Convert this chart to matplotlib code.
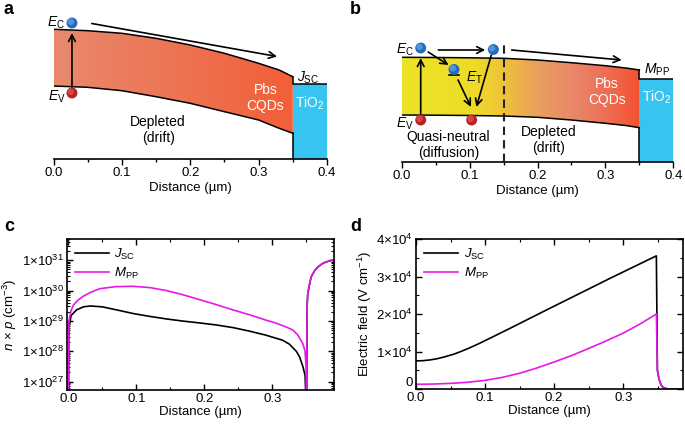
import numpy as np
import matplotlib
matplotlib.use('Agg')
import matplotlib.pyplot as plt
from matplotlib.colors import LinearSegmentedColormap
from matplotlib.patches import Polygon, Rectangle
from matplotlib.transforms import offset_copy
from matplotlib.ticker import MultipleLocator, LogLocator, FuncFormatter, NullFormatter, FixedLocator

plt.rcParams['font.family'] = ['Liberation Sans', 'DejaVu Sans']
plt.rcParams['mathtext.fontset'] = 'custom'
plt.rcParams['mathtext.rm'] = 'Liberation Sans'
plt.rcParams['mathtext.it'] = 'Liberation Sans:italic'
plt.rcParams['mathtext.bf'] = 'Liberation Sans:bold'
plt.rcParams['font.size'] = 8.5

# ---- panel a: band diagram at short circuit (energy, arbitrary units)
band_a_x = [0.0, 0.05, 0.1, 0.15, 0.2, 0.25, 0.3, 0.33, 0.35]
band_a_ec = [129.7, 128.3, 125.7, 120.7, 114.0, 105.7, 95.7, 89.0, 82.3]
band_a_ev = [73.0, 71.7, 68.3, 62.3, 55.7, 47.3, 39.0, 30.7, 25.7]
tio2_a_level = 74.7

# ---- panel b: band diagram at maximum power point
band_b_x = [0.0, 0.05, 0.1, 0.15, 0.2, 0.25, 0.3, 0.33, 0.35]
band_b_ec = [104.7, 104.5, 104.2, 103.7, 102.0, 99.3, 96.3, 94.0, 92.0]
band_b_ev = [47.0, 46.8, 46.5, 46.0, 44.7, 42.0, 38.7, 36.5, 34.3]
tio2_b_level = 83.0

# ---- panel c: n x p product (cm^-3)
np_x_jsc = [0.0, 0.0008, 0.004, 0.012, 0.022, 0.032, 0.05, 0.071, 0.095, 0.12, 0.145,
            0.169, 0.194, 0.218, 0.242, 0.266, 0.29, 0.315, 0.325, 0.335, 0.34, 0.345,
            0.348, 0.35, 0.3505, 0.351, 0.352, 0.355, 0.357, 0.362, 0.367, 0.373,
            0.379, 0.385, 0.39]
np_jsc = [1e26, 6e28, 1.5e29, 2.3e29, 2.9e29, 3.1e29, 2.9e29, 2.3e29, 1.75e29, 1.4e29,
          1.15e29, 9.8e28, 8.5e28, 7.3e28, 6.0e28, 4.6e28, 3.4e28, 2.3e28, 1.7e28,
          1.0e28, 6.5e27, 3e27, 1.6e27, 1e26, 1e26, 3e29, 8e29, 1.8e30, 2.8e30,
          4.5e30, 6e30, 7.6e30, 8.8e30, 9.6e30, 1.02e31]
np_x_mpp = [0.0, 0.0008, 0.004, 0.0073, 0.014, 0.022, 0.032, 0.046, 0.07, 0.095, 0.12,
            0.144, 0.168, 0.193, 0.218, 0.242, 0.266, 0.291, 0.305, 0.32, 0.33, 0.337,
            0.3446, 0.348, 0.3495, 0.35, 0.3505, 0.351, 0.352, 0.355, 0.357, 0.362,
            0.367, 0.373, 0.379, 0.385, 0.39]
np_mpp = [1e26, 1e29, 2.2e29, 3.3e29, 4.8e29, 6.5e29, 8.6e29, 1.15e30, 1.35e30, 1.38e30,
          1.25e30, 1.0e30, 7.3e29, 5.0e29, 3.4e29, 2.3e29, 1.6e29, 1.05e29, 8.5e28,
          6.3e28, 5.0e28, 3.5e28, 1.8e28, 1.0e28, 3e27, 1e26, 1e26, 3e29, 8e29,
          1.8e30, 2.8e30, 4.5e30, 6e30, 7.6e30, 8.8e30, 9.6e30, 1.02e31]

# ---- panel d: electric field (V cm^-1)
ef_x_jsc = [0.0, 0.01, 0.02, 0.03, 0.042, 0.055, 0.065, 0.078, 0.09, 0.11, 0.1385,
            0.187, 0.235, 0.283, 0.348, 0.3495, 0.352, 0.355, 0.358, 0.362, 0.366, 0.39]
ef_jsc = [7500, 7550, 7750, 8050, 8600, 9300, 10000, 11000, 12000, 13800, 16400,
          20900, 25300, 29700, 35500, 5000, 2500, 1000, 400, 120, 0, 0]
ef_x_mpp = [0.0, 0.025, 0.05, 0.075, 0.1, 0.125, 0.15, 0.175, 0.2, 0.225, 0.25,
            0.275, 0.3, 0.325, 0.348, 0.3495, 0.352, 0.355, 0.358, 0.362, 0.366, 0.39]
ef_mpp = [1250, 1320, 1500, 1800, 2300, 3100, 4200, 5600, 7200, 8900, 10800,
          12800, 14900, 17400, 20000, 5000, 2500, 1000, 400, 120, 0, 0]

W, H = 685, 424
fig = plt.figure(figsize=(6.85, 4.24), dpi=100)


def px_axes(l, t, r, b):
    return fig.add_axes([l / W, 1 - b / H, (r - l) / W, (b - t) / H])


def gradient_band(ax, x, top, bot, stops, colors):
    verts = list(zip(x, top)) + list(zip(x[::-1], bot[::-1]))
    poly = Polygon(verts, closed=True, facecolor='none', edgecolor='none')
    ax.add_patch(poly)
    cmap = LinearSegmentedColormap.from_list('g', list(zip(stops, colors)))
    grad = np.linspace(0, 1, 256).reshape(1, -1)
    im = ax.imshow(grad, cmap=cmap, extent=(x[0], x[-1], min(bot), max(top)),
                   aspect='auto', origin='lower', zorder=1, interpolation='bilinear')
    im.set_clip_path(poly)
    ax.plot(x, top, color='black', lw=1.1, zorder=3)
    ax.plot(x, bot, color='black', lw=1.1, zorder=3)


def band_axes(ax, ymax):
    ax.set_xlim(0, 0.4)
    ax.set_ylim(0, ymax)
    for s in ['left', 'right', 'top']:
        ax.spines[s].set_visible(False)
    ax.spines['bottom'].set_linewidth(1.2)
    ax.set_yticks([])
    ax.xaxis.set_major_locator(MultipleLocator(0.1))
    ax.xaxis.set_minor_locator(MultipleLocator(0.05))
    ax.xaxis.set_major_formatter(FuncFormatter(lambda v, p: f'{v:.1f}'))
    ax.tick_params(axis='x', which='major', direction='out', length=4, width=1, labelsize=9.5, pad=2)
    ax.tick_params(axis='x', which='minor', direction='out', length=2.5, width=1)
    ax.set_xlabel('Distance (µm)', fontsize=9.5, labelpad=2)
    ax.patch.set_alpha(0)


def ball(ax, x, y, color, light):
    ax.scatter([x], [y], s=62, color=color, zorder=6, edgecolor='none')
    hl = offset_copy(ax.transData, fig=fig, x=-1.2, y=1.2, units='dots')
    ax.scatter([x], [y], s=22, color=light, alpha=0.8, zorder=7, edgecolor='none', transform=hl)


def arrow(ax, x0, y0, x1, y1):
    ax.annotate('', xy=(x1, y1), xytext=(x0, y0),
                arrowprops=dict(arrowstyle='->', lw=1.2, color='black', mutation_scale=12,
                                shrinkA=0, shrinkB=0), zorder=5)


BLUE, BLUE_L = '#2a68b8', '#5aa0e8'
RED, RED_L = '#b82024', '#e05050'
CYAN = '#38c4f0'

# ---------------- panel a
axa = px_axes(53.5, 12, 327, 159)
gradient_band(axa, band_a_x, band_a_ec, band_a_ev, [0, 1], ['#e88a6e', '#f35e38'])
axa.add_patch(Rectangle((0.35, 0), 0.05, tio2_a_level, facecolor=CYAN, edgecolor='none', zorder=2))
axa.plot([0.35, 0.35, 0.4], [band_a_ec[-1], tio2_a_level, tio2_a_level], color='black', lw=1.1, zorder=3)
axa.plot([0.35, 0.35], [0, band_a_ev[-1]], color='black', lw=1.1, zorder=3)
band_axes(axa, 147)
arrow(axa, 0.027, 67, 0.027, 126)
arrow(axa, 0.056, 135.5, 0.327, 102.5)
ball(axa, 0.027, 136, BLUE, BLUE_L)
ball(axa, 0.027, 66, RED, RED_L)
axa.text(0.016, 136, '$E_{\\mathrm{C}}$', fontsize=10, ha='right', va='center')
axa.text(0.018, 62, '$E_{\\mathrm{V}}$', fontsize=10, ha='right', va='center')
axa.text(0.31, 61, 'Pbs\nCQDs', color='white', fontsize=10, ha='center', va='center', zorder=6, linespacing=1.1)
axa.text(0.375, 56, 'TiO$_2$', color='white', fontsize=10, ha='center', va='center', zorder=6)
axa.text(0.372, 81, '$J_{\\mathrm{SC}}$', fontsize=10, ha='center', va='center')
axa.text(0.153, 29, 'Depleted\n(drift)', fontsize=10, ha='center', va='center', linespacing=1.1)

# ---------------- panel b
axb = px_axes(401.7, 12, 673.3, 162)
gradient_band(axb, band_b_x, band_b_ec, band_b_ev,
              [0, 0.3, 0.43, 0.57, 0.72, 0.86, 1],
              ['#ece326', '#eedc28', '#efc23a', '#e9a05c', '#e8886c', '#ee6e55', '#f45230'])
axb.add_patch(Rectangle((0.35, 0), 0.05, tio2_b_level, facecolor=CYAN, edgecolor='none', zorder=2))
axb.plot([0.35, 0.35, 0.4], [band_b_ec[-1], tio2_b_level, tio2_b_level], color='black', lw=1.1, zorder=3)
axb.plot([0.35, 0.35], [0, band_b_ev[-1]], color='black', lw=1.1, zorder=3)
axb.plot([0.15, 0.15], [0, 121], color='#222222', lw=1.5, ls=(0, (4, 2.5)), zorder=4)
band_axes(axb, 150)
arrow(axb, 0.028, 47, 0.028, 104)
arrow(axb, 0.054, 112, 0.123, 112)
arrow(axb, 0.039, 110, 0.069, 97)
arrow(axb, 0.083, 82, 0.102, 55)
arrow(axb, 0.132, 107, 0.110, 55)
arrow(axb, 0.162, 112, 0.324, 102)
ball(axb, 0.028, 114, BLUE, BLUE_L)
ball(axb, 0.135, 112.5, BLUE, BLUE_L)
ball(axb, 0.077, 92.5, BLUE, BLUE_L)
axb.plot([0.07, 0.085], [87, 87], color='black', lw=1.2, zorder=5)
ball(axb, 0.028, 42, RED, RED_L)
ball(axb, 0.103, 42, RED, RED_L)
axb.text(0.094, 84, '$E_{\\mathrm{T}}$', fontsize=10, ha='left', va='center')
axb.text(0.018, 112, '$E_{\\mathrm{C}}$', fontsize=10, ha='right', va='center')
axb.text(0.018, 38, '$E_{\\mathrm{V}}$', fontsize=10, ha='right', va='center')
axb.text(0.069, 17, 'Quasi-neutral\n(diffusion)', fontsize=10, ha='center', va='center', linespacing=1.1)
axb.text(0.217, 22, 'Depleted\n(drift)', fontsize=10, ha='center', va='center', linespacing=1.1)
axb.text(0.302, 70, 'Pbs\nCQDs', color='white', fontsize=10, ha='center', va='center', zorder=6, linespacing=1.1)
axb.text(0.376, 65, 'TiO$_2$', color='white', fontsize=10, ha='center', va='center', zorder=6)
axb.text(0.376, 92, '$M_{\\mathrm{PP}}$', fontsize=10, ha='center', va='center')


def data_axes(ax):
    for s in ax.spines.values():
        s.set_linewidth(1.2)
    ax.xaxis.set_major_locator(MultipleLocator(0.1))
    ax.xaxis.set_minor_locator(MultipleLocator(0.05))
    ax.xaxis.set_major_formatter(FuncFormatter(lambda v, p: f'{v:.1f}'))
    ax.tick_params(which='both', direction='in', top=True, right=True, labelsize=9.5, pad=2)
    ax.tick_params(which='major', length=4, width=1)
    ax.tick_params(which='minor', length=2.2, width=0.8)
    ax.set_xlabel('Distance (µm)', fontsize=9.5, labelpad=1)


# ---------------- panel c
axc = px_axes(66.7, 239, 334.3, 390)
axc.semilogy(np_x_jsc, np_jsc, color='black', lw=1.2, label='$J_{\\mathrm{SC}}$')
axc.semilogy(np_x_mpp, np_mpp, color='#e619e6', lw=1.2, label='$M_{\\mathrm{PP}}$')
axc.set_xlim(-0.0025, 0.391)
axc.set_ylim(10 ** 26.72, 10 ** 31.7)
data_axes(axc)
axc.yaxis.set_major_locator(FixedLocator([1e27, 1e28, 1e29, 1e30, 1e31]))
axc.yaxis.set_minor_locator(LogLocator(base=10, subs=np.arange(2, 10), numticks=20))
axc.yaxis.set_minor_formatter(NullFormatter())
axc.yaxis.set_major_formatter(FuncFormatter(lambda v, p: '1$\\times$10$^{%d}$' % round(np.log10(v))))
axc.set_ylabel('$n$ × $p$ (cm$^{-3}$)', fontsize=9.5, labelpad=2)
axc.legend(loc='upper left', frameon=False, fontsize=9.5, handlelength=2.6,
           borderaxespad=0.2, labelspacing=0.3, handletextpad=0.4)

# ---------------- panel d
axd = px_axes(416, 239, 683.3, 389)
axd.plot(ef_x_jsc, ef_jsc, color='black', lw=1.2, label='$J_{\\mathrm{SC}}$')
axd.plot(ef_x_mpp, ef_mpp, color='#e619e6', lw=1.2, label='$M_{\\mathrm{PP}}$')
axd.set_xlim(0, 0.387)
axd.set_ylim(0, 40000)
data_axes(axd)
axd.yaxis.set_major_locator(MultipleLocator(10000))
axd.yaxis.set_minor_locator(MultipleLocator(5000))
axd.yaxis.set_major_formatter(FuncFormatter(
    lambda v, p: '0' if v == 0 else '%d$\\times$10$^{4}$' % round(v / 1e4)))
axd.set_ylabel('Electric field (V cm$^{-1}$)', fontsize=9.5, labelpad=2)
axd.legend(loc='upper left', frameon=False, fontsize=9.5, handlelength=2.6,
           borderaxespad=0.2, labelspacing=0.3, handletextpad=0.4)

for lbl, x, y in [('a', 4, 9), ('b', 350, 9), ('c', 4, 227), ('d', 350, 227)]:
    fig.text(x / W, 1 - y / H, lbl, fontsize=13, fontweight='bold', ha='left', va='center')

# lift the "0" label in panel d a little so it sits above the x tick labels
fig.canvas.draw()
for lab in axd.get_yticklabels():
    if lab.get_text() == '0':
        lab.set_va('bottom')

fig.savefig('out.png', dpi=100)
